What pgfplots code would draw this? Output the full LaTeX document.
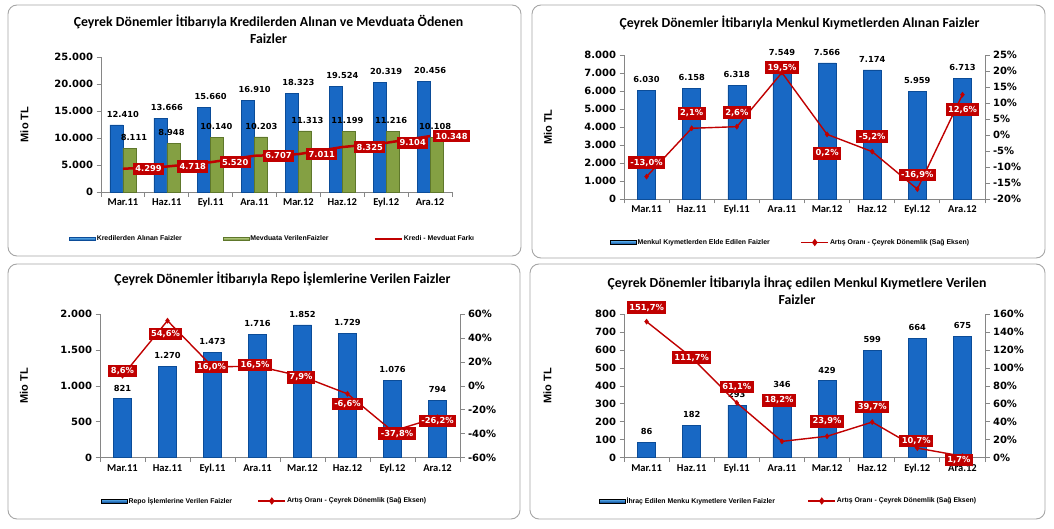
\documentclass[border=0pt]{standalone}
\usepackage{pgfplots}
\pgfplotsset{compat=1.18}
\usepackage{fontspec}
\setmainfont{Carlito}
\newfontfamily\dvs{DejaVu Sans}
\newfontfamily\lib{Liberation Sans}
\definecolor{bbd}{HTML}{0B4C98}
\definecolor{bbm}{HTML}{1868C4}
\definecolor{bbl}{HTML}{5DB3F2}
\definecolor{bgd}{HTML}{5E772B}
\definecolor{bgm}{HTML}{84A043}
\definecolor{bgl}{HTML}{C2D98A}
\definecolor{kred}{HTML}{C00000}
\definecolor{axgray}{HTML}{868686}
\definecolor{framegray}{HTML}{A6A6A6}

\newcommand\tickfont{\dvs\bfseries\fontsize{10}{12}\selectfont}
\newcommand\valfont{\dvs\bfseries\fontsize{8.3}{10}\selectfont}
\newcommand\catfont{\bfseries\fontsize{10.5}{12}\selectfont}
\newcommand\legfont{\lib\bfseries\fontsize{6.9}{8}\selectfont}
\newcommand\titfont{\bfseries\fontsize{13.8}{16.6}\selectfont}

\pgfplotsset{
  base/.style={
    scale only axis, clip=false,
    xmin=-0.5, xmax=7.5,
    tick align=outside, major tick length=4.5pt,
    axis line style={axgray, line width=0.8pt},
    every tick/.style={axgray, line width=0.8pt},
    /pgf/number format/use comma,
    /pgf/number format/1000 sep={.},
    /pgf/number format/assume math mode=true,
    yticklabel style={font=\tickfont},
    scaled y ticks=false,
  },
  prim/.style={base,
    axis x line*=bottom, axis y line*=left,
    xtick={-0.5,0.5,...,7.5}, xticklabels={,,,,,,,,},
    extra x ticks={0,1,...,7},
    extra x tick labels={Mar.11,Haz.11,Eyl.11,Ara.11,Mar.12,Haz.12,Eyl.12,Ara.12},
    extra x tick style={major tick length=0pt, xticklabel style={font=\catfont, yshift=-3pt}},
    ylabel={Mio TL},
    ylabel style={font=\lib\bfseries\fontsize{11}{13}\selectfont, at={(axis description cs:#1,0.5)}, anchor=center},
  },
  sec/.style={base,
    axis x line=none, axis y line*=right,
    yticklabel={\pgfmathprintnumber{\tick}\%},
  },
  barlab/.style={nodes near coords, point meta=y,
    every node near coord/.append style={font=\valfont, text=black, yshift=4pt}},
  boxlab/.style={nodes near coords={\pgfmathprintnumber[fixed,fixed zerofill,precision=1]{\pgfplotspointmeta}\%}, point meta=y,
    visualization depends on={\thisrow{dx} \as \dx},
    visualization depends on={\thisrow{dy} \as \dy},
    every node near coord/.append style={anchor=center, xshift=\dx pt, yshift=\dy pt, fill=kred, text=white, font=\valfont, inner xsep=2.5pt, inner ysep=2.6pt}},
  blueswatch/.style={legend image code/.code={\shade[top color=bbl, bottom color=bbd] (0pt,-1.8pt) rectangle (26pt,1.8pt);}},
  greenswatch/.style={legend image code/.code={\shade[top color=bgl, bottom color=bgd] (0pt,-1.8pt) rectangle (26pt,1.8pt);}},
  redline/.style={kred, line width=1.4pt, mark=diamond*, mark size=2.6pt, mark options={fill=kred, draw=kred, line width=0.4pt, solid}},
  redlegend/.style={legend image code/.code={\draw[kred, line width=1.4pt, mark=diamond*, mark size=2.6pt, mark repeat=2, mark phase=2, mark options={fill=kred}] plot coordinates {(0pt,0pt) (13.5pt,0pt) (27pt,0pt)};}},
  leg/.style 2 args={legend style={at={(axis description cs:#1,#2)}, anchor=west, draw=none, fill=none, inner sep=0pt, font=\legfont, nodes={inner sep=1pt}}, legend columns=-1, legend cell align=left},
  bluebar/.style={ybar, bar width=18pt, bar shift=0pt, fill=bbm, draw=bbd, line width=0.6pt},
}

\begin{document}
\begin{tikzpicture}[x=1pt,y=1pt]
\useasboundingbox (0,0) rectangle (1054,528);
\fill[white] (0,0) rectangle (1054,528);
\draw[framegray, line width=0.9pt, rounded corners=9pt] (8,272) rectangle (521,523);
\draw[framegray, line width=0.9pt, rounded corners=9pt] (532,270) rectangle (1045,523);
\draw[framegray, line width=0.9pt, rounded corners=9pt] (8,9) rectangle (520,264);
\draw[framegray, line width=0.9pt, rounded corners=9pt] (530,9) rectangle (1045,264);

\node[align=center, font=\titfont] at (268.5,498.7) {Çeyrek Dönemler İtibarıyla Kredilerden Alınan ve Mevduata Ödenen\\Faizler};
\node[align=center, font=\titfont] at (799.5,505.3) {Çeyrek Dönemler İtibarıyla Menkul Kıymetlerden Alınan Faizler};
\node[align=center, font=\titfont] at (282.5,249.3) {Çeyrek Dönemler İtibarıyla Repo İşlemlerine Verilen Faizler};
\node[align=center, font=\titfont] at (797,238) {Çeyrek Dönemler İtibarıyla İhraç edilen Menkul Kıymetlere Verilen\\Faizler};

% ---------- Panel 1 ----------
\begin{axis}[prim=-0.218, at={(101pt,336pt)}, anchor=south west, width=351pt, height=135pt,
  ymin=0, ymax=25000, ytick={0,5000,...,25000},
  leg={-0.0912}{-0.348}]
\addplot[ybar, bar width=13pt, bar shift=-6.5pt, fill=bbm, draw=bbd, line width=0.6pt, barlab, blueswatch] table {
x y
0 12410
1 13666
2 15660
3 16910
4 18323
5 19524
6 20319
7 20456
};
\addlegendentry{\makebox[125pt][l]{Kredilerden Alınan Faizler}}
\addplot[ybar, bar width=13pt, bar shift=6.5pt, fill=bgm, draw=bgd, line width=0.6pt, barlab, greenswatch,
  visualization depends on={\thisrow{dx} \as \gx},
  every node near coord/.append style={xshift=\gx pt}] table {
x y dx
0 8111 11
1 8948 4.6
2 10140 5.7
3 10203 6.8
4 11313 8.9
5 11199 5
6 11216 5
7 10108 5
};
\addlegendentry{\makebox[122pt][l]{Mevduata VerilenFaizler}}
\addplot[kred, line width=2.5pt, no markers, nodes near coords, point meta=y,
  legend image code/.code={\draw[kred, line width=2.5pt] (0pt,0pt) -- (27pt,0pt);},
  visualization depends on={\thisrow{dx} \as \dx},
  every node near coord/.append style={anchor=west, xshift=\dx pt, fill=kred, text=white, font=\valfont, inner xsep=2.5pt, inner ysep=3pt}] table {
x y dx
0 4299 8.7
1 4718 9
2 5520 7.6
3 6707 7
4 7011 6.4
5 8325 10.5
6 9104 9.6
7 10348 1.7
};
\addlegendentry{Kredi - Mevduat Farkı}
\end{axis}

% ---------- Panel 2 ----------
\begin{axis}[prim=-0.2105, at={(624pt,329pt)}, anchor=south west, width=361pt, height=144pt,
  ymin=0, ymax=8000, ytick={0,1000,...,8000}]
\addplot[bluebar, barlab] table {
x y
0 6030
1 6158
2 6318
3 7549
4 7566
5 7174
6 5959
7 6713
};
\end{axis}
\begin{axis}[sec, at={(624pt,329pt)}, anchor=south west, width=361pt, height=144pt,
  ymin=-20, ymax=25, ytick={-20,-15,...,25},
  leg={-0.0388}{-0.302}]
\addlegendimage{blueswatch}
\addlegendentry{\makebox[162pt][l]{Menkul Kıymetlerden Elde Edilen Faizler}}
\addplot[redline, redlegend, boxlab] table {
x y dx dy
0 -13.0 0 14
1 2.1 0 15
2 2.6 0 14
3 19.5 0 5
4 0.2 0 -19
5 -5.2 0 15
6 -16.9 0 14
7 12.6 0 -15
};
\addlegendentry{Artış Oranı - Çeyrek Dönemlik (Sağ Eksen)}
\end{axis}

% ---------- Panel 3 ----------
\begin{axis}[prim=-0.211, at={(100pt,70.3pt)}, anchor=south west, width=360pt, height=143.5pt,
  ymin=0, ymax=2000, ytick={0,500,...,2000}]
\addplot[bluebar, barlab] table {
x y
0 821
1 1270
2 1473
3 1716
4 1852
5 1729
6 1076
7 794
};
\end{axis}
\begin{axis}[sec, at={(100pt,70.3pt)}, anchor=south west, width=360pt, height=143.5pt,
  ymin=-60, ymax=60, ytick={-60,-40,...,60},
  leg={0.0028}{-0.3017}]
\addlegendimage{blueswatch}
\addlegendentry{\makebox[128pt][l]{Repo İşlemlerine Verilen Faizler}}
\addplot[redline, redlegend, boxlab] table {
x y dx dy
0 8.6 0 4.7
1 54.6 -2 -13.5
2 16.0 -1 0
3 16.5 -2.5 1
4 7.9 -1.5 -1
5 -6.6 0 -10
6 -37.8 4.5 -2.6
7 -26.2 0 -3.6
};
\addlegendentry{Artış Oranı - Çeyrek Dönemlik (Sağ Eksen)}
\end{axis}

% ---------- Panel 4 ----------
\begin{axis}[prim=-0.212, at={(624pt,70.3pt)}, anchor=south west, width=361pt, height=143.5pt,
  ymin=0, ymax=800, ytick={0,100,...,800}]
\addplot[bluebar, barlab] table {
x y
0 86
1 182
2 293
3 346
4 429
5 599
6 664
7 675
};
\end{axis}
\begin{axis}[sec, at={(624pt,70.3pt)}, anchor=south west, width=361pt, height=143.5pt,
  ymin=0, ymax=160, ytick={0,20,...,160},
  leg={-0.0693}{-0.3017}]
\addlegendimage{blueswatch}
\addlegendentry{\makebox[180pt][l]{İhraç Edilen Menku Kıymetlere Verilen Faizler}}
\addplot[redline, redlegend, boxlab] table {
x y dx dy
0 151.7 0 14
1 111.7 0 0
2 61.1 0 16
3 18.2 -3 41
4 23.9 0 15
5 39.7 0 15
6 10.7 -1 7
7 1.7 -3.5 -4
};
\addlegendentry{Artış Oranı - Çeyrek Dönemlik (Sağ Eksen)}
\end{axis}
\end{tikzpicture}
\end{document}
